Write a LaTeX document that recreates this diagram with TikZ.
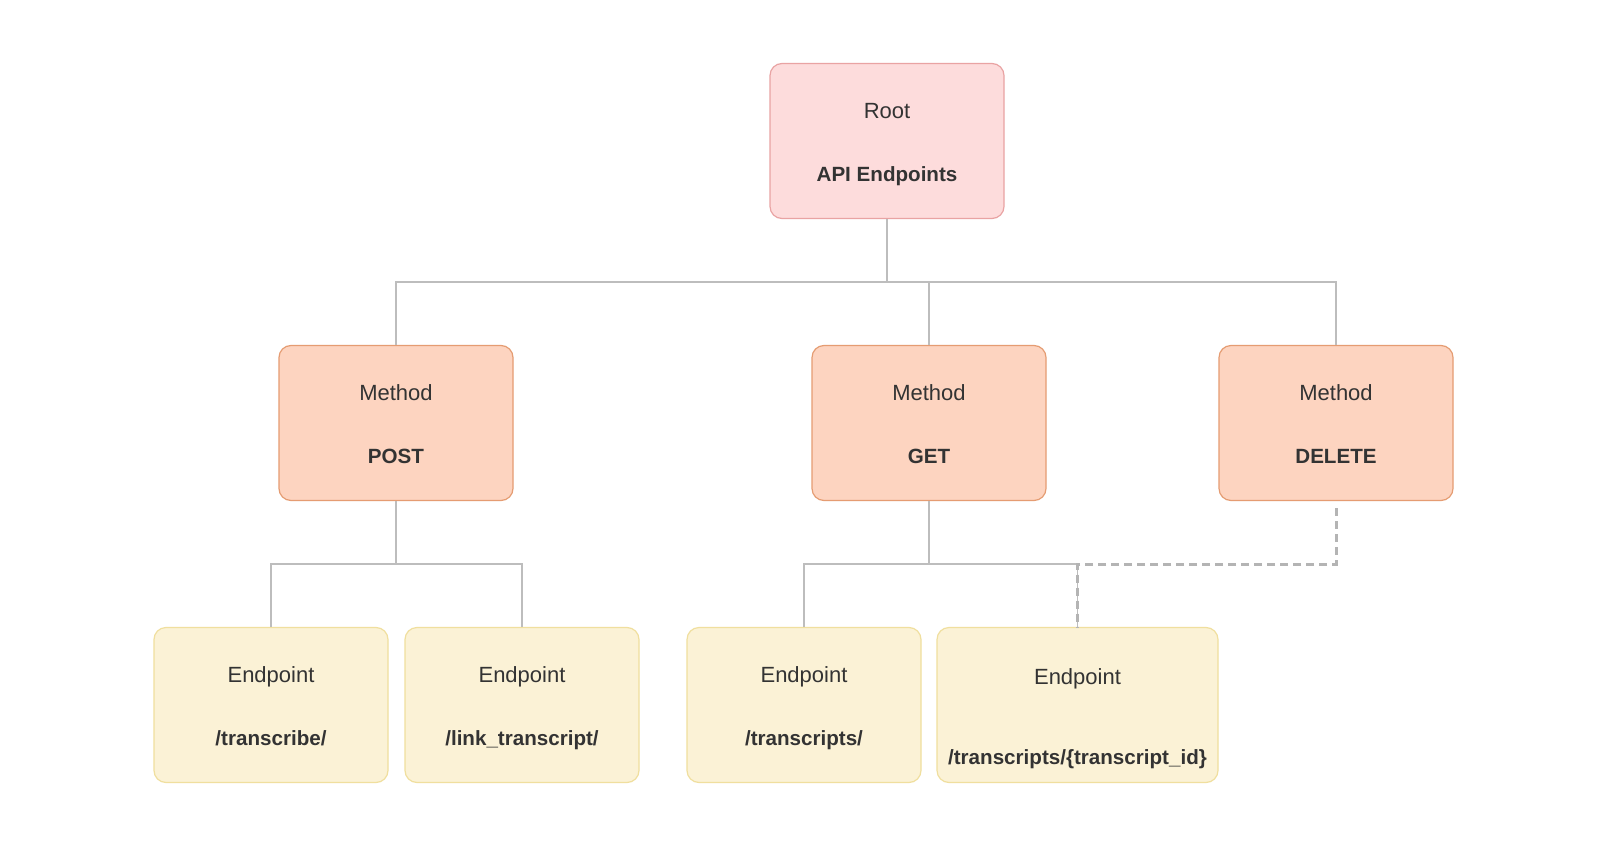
\documentclass[tikz,border=0pt]{standalone}
\usepackage{fontspec}
\setmainfont{Liberation Sans}
\definecolor{rootfill}{HTML}{FDDCDC}
\definecolor{rootdraw}{HTML}{E9A3A3}
\definecolor{methfill}{HTML}{FDD4C0}
\definecolor{methdraw}{HTML}{E59C72}
\definecolor{endfill}{HTML}{FBF2D6}
\definecolor{enddraw}{HTML}{F0DF9E}
\definecolor{linec}{HTML}{BDBDBD}
\definecolor{dashc}{HTML}{B4B4B4}
\definecolor{txtc}{HTML}{333333}
\tikzset{
  box/.style={rectangle, rounded corners=12pt, line width=1.2pt, minimum width=234pt, minimum height=155pt, inner sep=0pt},
  rootbox/.style={box, fill=rootfill, draw=rootdraw},
  methbox/.style={box, fill=methfill, draw=methdraw},
  endbox/.style={box, fill=endfill, draw=enddraw},
  kindtxt/.style={text=txtc, font=\fontsize{22}{26}\selectfont, inner sep=0pt, anchor=base},
  nametxt/.style={text=txtc, font=\fontsize{20.6}{25}\selectfont\bfseries, inner sep=0pt, anchor=base},
  conn/.style={draw=linec, line width=1.3pt},
  dconn/.style={draw=dashc, line width=3pt, dash pattern=on 8pt off 5pt},
}
\begin{document}
\begin{tikzpicture}[x=1pt,y=-1pt]
\useasboundingbox[fill=white] (0,0) rectangle (1608,848);
% boxes
\node[rootbox] (root) at (887,141) {};
\node[methbox] (post) at (396,423) {};
\node[methbox] (get) at (929,423) {};
\node[methbox] (del) at (1336,423) {};
\node[endbox] (e1) at (271,705) {};
\node[endbox] (e2) at (522,705) {};
\node[endbox] (e3) at (804,705) {};
\node[endbox, minimum width=281pt] (e4) at (1077.5,705) {};
% texts
\node[kindtxt] (rootk) at ([yshift=-56pt]root.north) {Root};
\node[nametxt] (rootn) at ([yshift=-119pt]root.north) {API Endpoints};
\node[kindtxt] (postk) at ([yshift=-56pt]post.north) {Method};
\node[nametxt] (postn) at ([yshift=-119pt]post.north) {POST};
\node[kindtxt] (getk) at ([yshift=-56pt]get.north) {Method};
\node[nametxt] (getn) at ([yshift=-119pt]get.north) {GET};
\node[kindtxt] (delk) at ([yshift=-56pt]del.north) {Method};
\node[nametxt] (deln) at ([yshift=-119pt]del.north) {DELETE};
\node[kindtxt] (e1k) at ([yshift=-56pt]e1.north) {Endpoint};
\node[nametxt] (e1n) at ([yshift=-119pt]e1.north) {/transcribe/};
\node[kindtxt] (e2k) at ([yshift=-56pt]e2.north) {Endpoint};
\node[nametxt] (e2n) at ([yshift=-119pt]e2.north) {/link\_transcript/};
\node[kindtxt] (e3k) at ([yshift=-56pt]e3.north) {Endpoint};
\node[nametxt] (e3n) at ([yshift=-119pt]e3.north) {/transcripts/};
\node[kindtxt] (e4k) at ([yshift=-58pt]e4.north) {Endpoint};
\node[nametxt] (e4n) at ([yshift=-138pt]e4.north) {/transcripts/\{transcript\_id\}};
% connectors
\coordinate (bus1) at (887,282);
\coordinate (bus2) at (396,564);
\coordinate (bus3) at (929,564);
\coordinate (dtop) at (1336,508);
\draw[conn] (root.south) -- (bus1);
\draw[conn] (bus1) -| (post.north);
\draw[conn] (bus1) -| (get.north);
\draw[conn] (bus1) -| (del.north);
\draw[conn] (post.south) -- (bus2);
\draw[conn] (bus2) -| (e1.north);
\draw[conn] (bus2) -| (e2.north);
\draw[conn] (get.south) -- (bus3);
\draw[conn] (bus3) -| (e3.north);
\draw[conn] (bus3) -| (e4.north);
\draw[dconn] (dtop) |- (bus3 -| e4.north) -- (e4.north);
\end{tikzpicture}
\end{document}
